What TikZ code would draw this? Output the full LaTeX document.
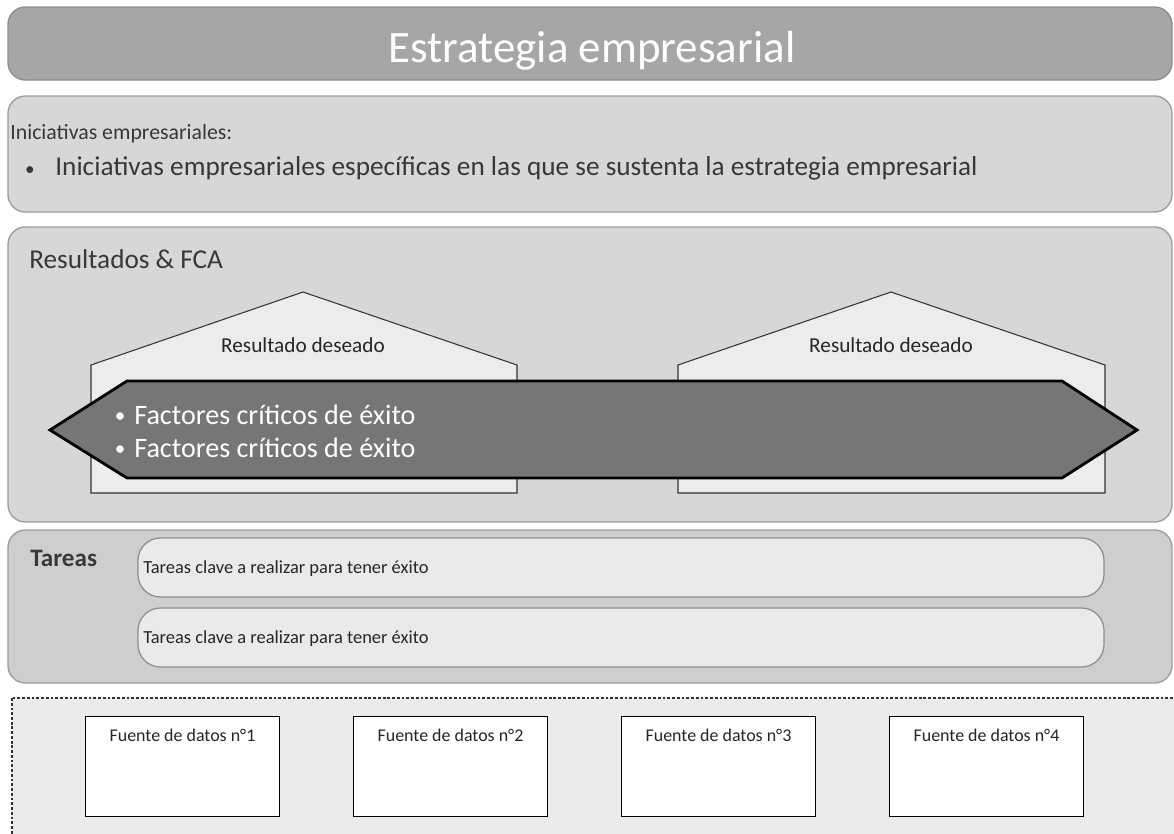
\documentclass[tikz,border=0pt]{standalone}
\usepackage{fontspec}
\setmainfont{Carlito}
\usetikzlibrary{positioning}
\definecolor{barra}{HTML}{A6A6A6}
\definecolor{bordebarra}{HTML}{8E8E8E}
\definecolor{panel}{HTML}{D7D7D7}
\definecolor{borde}{HTML}{9E9E9E}
\definecolor{casa}{HTML}{ECECEC}
\definecolor{flecha}{HTML}{767676}
\definecolor{pildora}{HTML}{EAEAEA}
\definecolor{fondo}{HTML}{EBEBEB}
\definecolor{texto}{HTML}{383838}
\newcommand{\tam}[1]{\fontsize{#1}{#1}\selectfont}

\begin{document}
\begin{tikzpicture}[x=0.02cm,y=-0.02cm,
    caja/.style={draw=borde,fill=panel,line width=0.8pt,rounded corners=0.35cm},
    casita/.style={draw=black!80,fill=casa,line width=0.6pt},
    hexa/.style={draw=black,fill=flecha,line width=1.6pt,line join=miter},
    tarea/.style={draw=borde!90!black,fill=pildora,line width=0.7pt,rounded corners=0.45cm},
    fuente/.style={draw=black,fill=white,line width=0.9pt,minimum width=3.88cm,minimum height=2cm,inner sep=0pt},
    rotulo/.style={inner sep=0pt,text=texto}]
\useasboundingbox (0,0) rectangle (1174,833);
\fill[white] (0,0) rectangle (1174,833);
%
% zona de fuentes de datos
\begin{scope}
\clip (0,0) rectangle (1174,833);
\draw[fill=fondo,draw=black!80,line width=0.7pt,dash pattern=on 1.6pt off 1.1pt] (12,698) rectangle (1190,850);
\end{scope}
%
\draw[draw=bordebarra,fill=barra,line width=0.8pt,rounded corners=0.35cm] (8,7) rectangle (1172,80);
\draw[caja] (8,96) rectangle (1172,212);
\draw[caja] (8,227) rectangle (1172,522);
\draw[caja,fill=panel!96!black] (8,530) rectangle (1172,683);
%
\node[rotulo,anchor=base,text=white,font=\tam{25.6}] (titulo) at (592,62) {Estrategia empresarial};
\node[rotulo,anchor=base west,font=\tam{12.4}] (inic) at (10,139) {Iniciativas empresariales:};
\node[rotulo,anchor=base,font=\tam{11}] (vin0) at (30,175) {\textbullet};
\node[rotulo,anchor=base west,font=\tam{15.5}] (inicdet) at (55,175) {Iniciativas empresariales específicas en las que se sustenta la estrategia empresarial};
\node[rotulo,anchor=base west,font=\tam{15.5}] (res) at (29,268) {Resultados \& FCA};
%
\draw[casita] (91,493) -- (91,365) -- (303,292) -- (517,365) -- (517,493) -- cycle;
\draw[casita] (678,493) -- (678,365) -- (891,292) -- (1105,365) -- (1105,493) -- cycle;
\node[rotulo,anchor=base,text=black!85,font=\tam{12.1}] (des1) at (303,352) {Resultado deseado};
\node[rotulo,anchor=base,text=black!85,font=\tam{12.1}] (des2) at (891,352) {Resultado deseado};
%
\draw[hexa] (50,430) -- (127,381) -- (1062,381) -- (1137,430) -- (1062,478) -- (127,478) -- cycle;
\node[rotulo,anchor=base,text=white,font=\tam{12}] (vin1) at (120,422) {\textbullet};
\node[rotulo,anchor=base west,text=white,font=\tam{16}] (fca1) at (134,424) {Factores críticos de éxito};
\node[rotulo,anchor=base,text=white,font=\tam{12}] (vin2) at (120,455) {\textbullet};
\node[rotulo,anchor=base west,text=white,font=\tam{16}] (fca2) at (134,457) {Factores críticos de éxito};
%
\node[rotulo,anchor=base west,font=\bfseries\tam{14.3}] (tar) at (30,566) {Tareas};
\draw[tarea] (138,538) rectangle (1104,597);
\draw[tarea] (138,608) rectangle (1104,667);
\node[rotulo,anchor=base west,text=black!85,font=\tam{10.5}] (tar1) at (143,573) {Tareas clave a realizar para tener éxito};
\node[rotulo,anchor=base west,text=black!85,font=\tam{10.5}] (tar2) at (143,643) {Tareas clave a realizar para tener éxito};
%
\node[fuente] (f1) at (182.5,766.5) {};
\node[fuente] (f2) at (450.5,766.5) {};
\node[fuente] (f3) at (718.5,766.5) {};
\node[fuente] (f4) at (986.5,766.5) {};
\node[rotulo,anchor=north,text=black!85,font=\tam{10.2},below=0.26cm of f1.north] (t1) {Fuente de datos n°1};
\node[rotulo,anchor=north,text=black!85,font=\tam{10.2},below=0.26cm of f2.north] (t2) {Fuente de datos n°2};
\node[rotulo,anchor=north,text=black!85,font=\tam{10.2},below=0.26cm of f3.north] (t3) {Fuente de datos n°3};
\node[rotulo,anchor=north,text=black!85,font=\tam{10.2},below=0.26cm of f4.north] (t4) {Fuente de datos n°4};
\end{tikzpicture}
\end{document}
